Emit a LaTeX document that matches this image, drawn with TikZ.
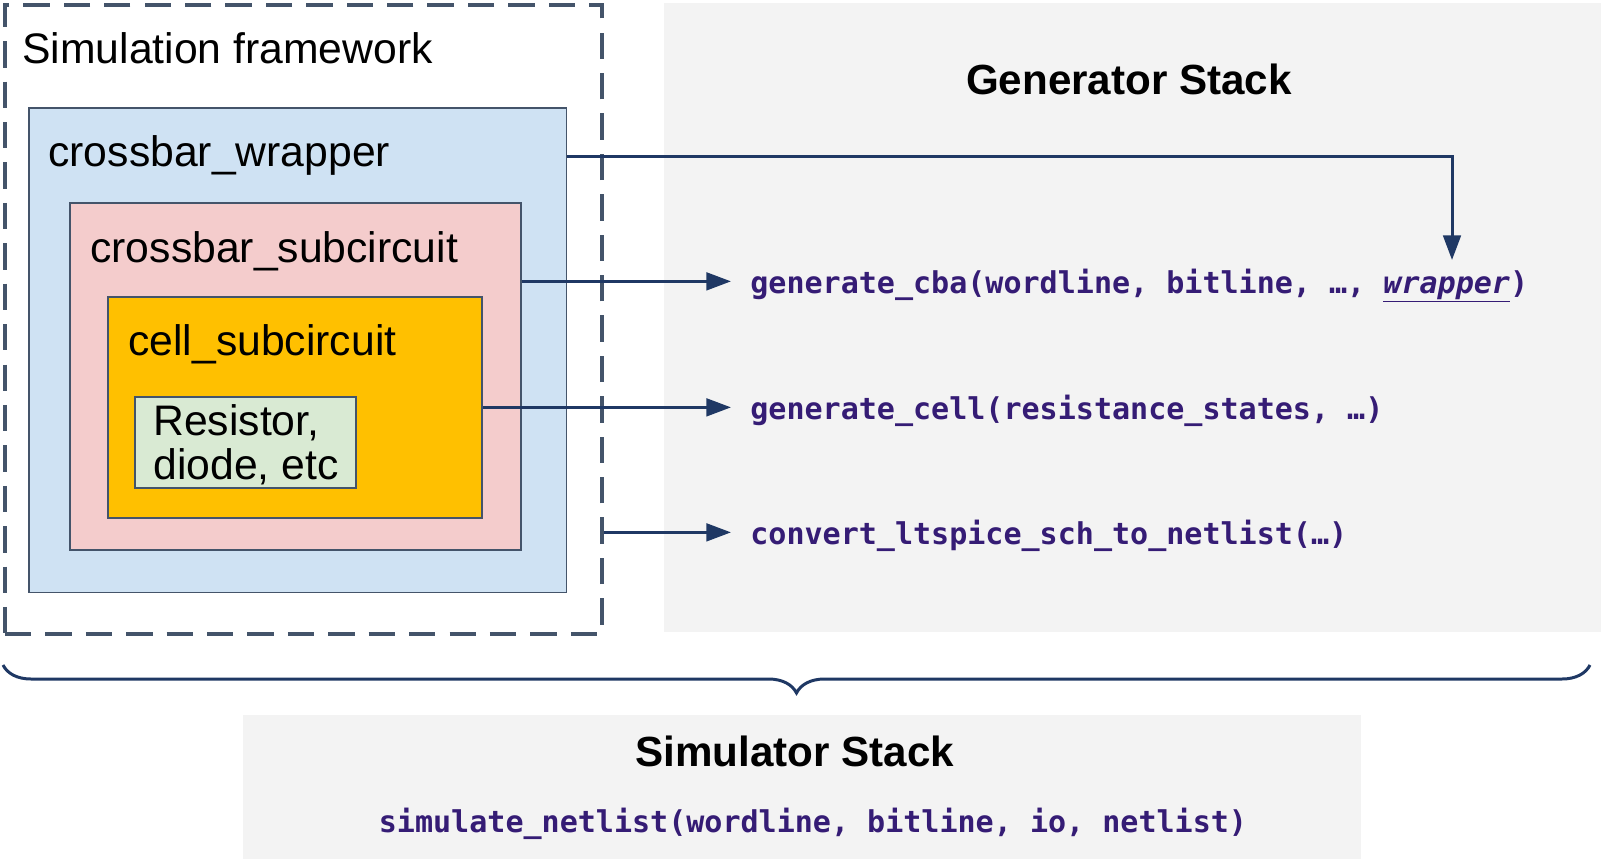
\documentclass[tikz,border=0pt]{standalone}
\usepackage{fontspec}
\setmainfont{Liberation Sans}
\setmonofont{DejaVu Sans Mono}
\usepackage{xcolor}
\usepackage{tikz}
\usetikzlibrary{arrows.meta,decorations.pathreplacing}

\definecolor{slate}{HTML}{44546A}
\definecolor{navy}{HTML}{1F3864}
\definecolor{wrapblue}{HTML}{CFE2F3}
\definecolor{subpink}{HTML}{F4CCCC}
\definecolor{cellorange}{HTML}{FFC000}
\definecolor{resgreen}{HTML}{D9EAD3}
\definecolor{stackgray}{HTML}{F3F3F3}
\definecolor{codepurple}{HTML}{351C75}

\tikzset{
  box/.style={draw=slate, line width=0.9pt, anchor=north west, inner sep=0pt},
  stack/.style={fill=stackgray, anchor=north west, inner sep=0pt},
  lbl/.style={anchor=base west, inner sep=0pt, font=\fontsize{24.3}{25}\selectfont},
  title/.style={anchor=base, inner sep=0pt, font=\bfseries\fontsize{24}{25}\selectfont},
  code/.style={anchor=base west, inner sep=0pt, text=codepurple,
    font=\ttfamily\bfseries\fontsize{17.1}{20}\selectfont},
  arr/.style={draw=navy, line width=1.7pt, -{Triangle[length=14pt,width=10pt]}},
}

\begin{document}
\begin{tikzpicture}[x=0.02cm, y=-0.02cm]
    \useasboundingbox (0,0) rectangle (1601,859);

    % grey stacks
    \node[stack, minimum width=18.74cm, minimum height=12.58cm] (genbox) at (664,3) {};
    \node[stack, minimum width=22.36cm, minimum height=2.88cm] (simbox) at (243,715) {};
    \node[title] (genttl) at (1129,94) {Generator Stack};
    \node[title] (simttl) at (795,766) {Simulator Stack};
    \node[code, anchor=base] (simnet) at (813,832) {simulate\_netlist(wordline, bitline, io, netlist)};

    % simulation framework
    \node[draw=slate, line width=2.3pt, dash pattern=on 15pt off 8pt, anchor=north west,
          inner sep=0pt, minimum width=11.94cm, minimum height=12.58cm] (frame) at (3,3) {};
    \node[lbl] (framelbl) at (22,63) {Simulation framework};
    \node[box, fill=wrapblue, minimum width=10.76cm, minimum height=9.7cm] (wrapbox) at (28,107) {};
    \node[lbl] (wraplbl) at (48,166) {crossbar\_wrapper};
    \node[box, fill=subpink, minimum width=9.02cm, minimum height=6.94cm] (subbox) at (69,202) {};
    \node[lbl] (sublbl) at (90,262) {crossbar\_subcircuit};
    \node[box, fill=cellorange, minimum width=7.48cm, minimum height=4.42cm] (cellbox) at (107,296) {};
    \node[lbl] (celllbl) at (128,355) {cell\_subcircuit};
    \node[box, fill=resgreen, minimum width=4.42cm, minimum height=1.82cm] (resbox) at (134,396) {};
    \node[lbl, anchor=north west, align=left] (reslbl) at (153,404) {Resistor,\\diode, etc};

    % generator calls
    \node[code] (cba) at (750,293) {generate\_cba(wordline, bitline, …, \underline{\textit{wrapper}})};
    \node[code] (cell) at (750,419) {generate\_cell(resistance\_states, …)};
    \node[code] (ltspice) at (750,544) {convert\_ltspice\_sch\_to\_netlist(…)};
    \coordinate (wrapin) at (1452,260);

    \draw[arr] ([yshift=0.1cm]wrapbox.east |- wraplbl.mid) -| (wrapin);
    \draw[arr, shorten >=0.38cm] ([yshift=0.14cm]subbox.east |- cba.mid) -- ([yshift=0.14cm]cba.mid west);
    \draw[arr, shorten >=0.38cm] ([yshift=0.14cm]cellbox.east |- cell.mid) -- ([yshift=0.14cm]cell.mid west);
    \draw[arr, shorten >=0.38cm] ([yshift=0.14cm]frame.east |- ltspice.mid) -- ([yshift=0.14cm]ltspice.mid west);

    % brace over both stacks
    \coordinate (braceL) at (3,665);
    \coordinate (braceR) at (1590,665);
    \draw[navy, line width=1.7pt, decorate, decoration={brace, mirror, amplitude=0.56cm}]
        (braceL) -- (braceR);
\end{tikzpicture}
\end{document}
